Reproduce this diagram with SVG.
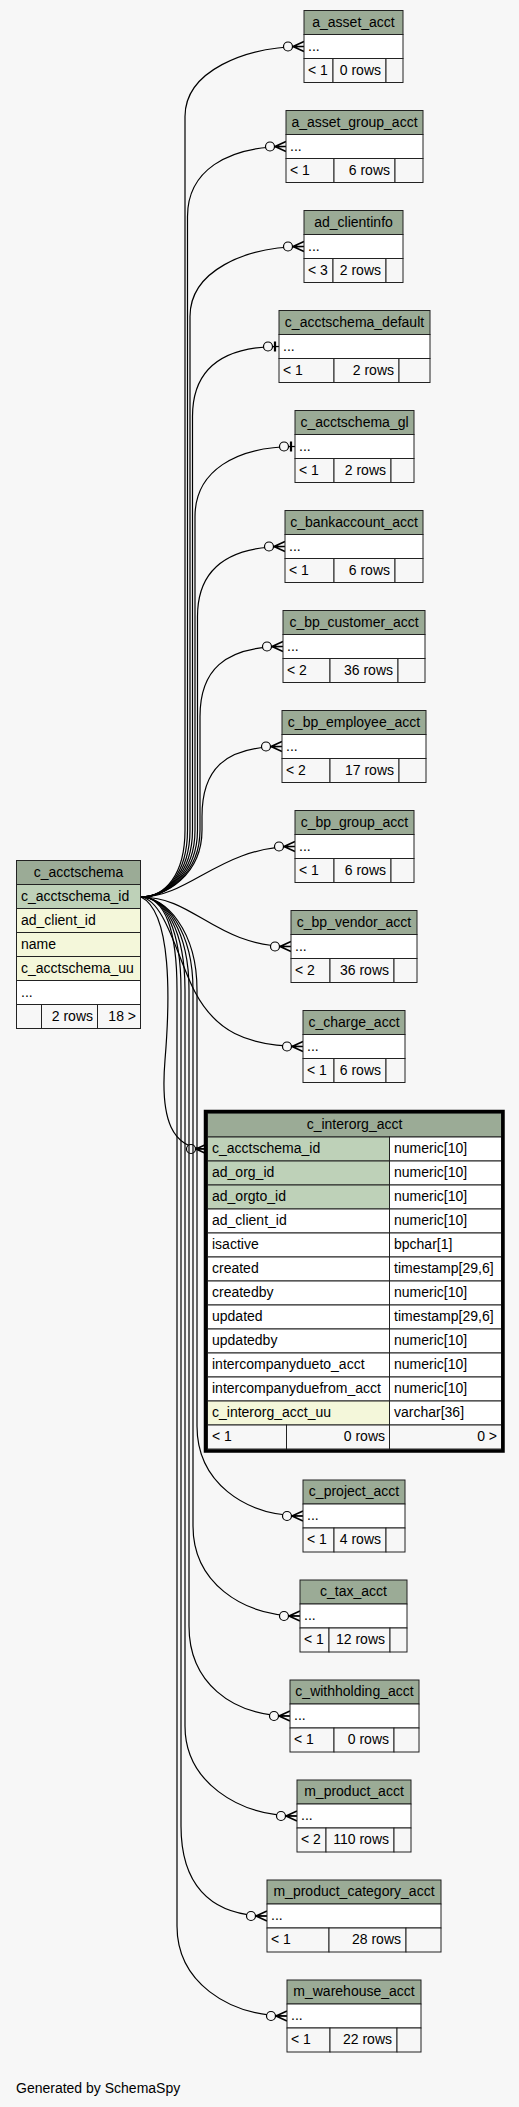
<svg xmlns="http://www.w3.org/2000/svg" width="519" height="2107" viewBox="0 0 519 2107">
<style>
.t{font-family:"Liberation Sans",Arial,sans-serif;font-size:14px;fill:#000}
.c{text-anchor:middle}
.e{text-anchor:end}
.hd{fill:#9bab96;stroke:#222;stroke-width:1}
.pk{fill:#bed1b8;stroke:#222;stroke-width:1}
.ix{fill:#f4f7da;stroke:#222;stroke-width:1}
.wh{fill:#fff;stroke:#222;stroke-width:1}
.ft{fill:#f7f7f7;stroke:#222;stroke-width:1}
.edge{fill:none;stroke:#000;stroke-width:1.2}
</style>
<defs>
<marker id="crow" markerUnits="userSpaceOnUse" markerWidth="24" markerHeight="14" refX="0" refY="0" orient="auto" overflow="visible">
<circle cx="-16" cy="0" r="4.5" fill="#f7f7f7" stroke="#000" stroke-width="1.2"/>
<path d="M-11,0 L0,-5 M-11,0 L0,0 M-11,0 L0,5" stroke="#000" stroke-width="1.6" fill="none"/>
</marker>
<marker id="one" markerUnits="userSpaceOnUse" markerWidth="24" markerHeight="14" refX="0" refY="0" orient="auto" overflow="visible">
<path d="M-6.5,0 L0,0" stroke="#000" stroke-width="1.2"/>
<circle cx="-11" cy="0" r="4.5" fill="#f7f7f7" stroke="#000" stroke-width="1.2"/>
<path d="M-4,-5 L-4,5" stroke="#000" stroke-width="2.2" fill="none"/>
</marker>
</defs>
<rect x="0" y="0" width="519" height="2107" fill="#f7f7f7"/>

<g id="connectors">
<path class="edge" marker-end="url(#crow)" d="M141,897 C165,897 185,875 185,830 L185,116.5 C185,71.5 244,46.5 304,46.5"/>
<path class="edge" marker-end="url(#crow)" d="M141,897 C165,897 187.5,875 187.5,830 L187.5,216.5 C187.5,171.5 226,146.5 286,146.5"/>
<path class="edge" marker-end="url(#crow)" d="M141,897 C165,897 190,875 190,830 L190,316.5 C190,271.5 244,246.5 304,246.5"/>
<path class="edge" marker-end="url(#one)" d="M141,897 C165,897 192.5,875 192.5,830 L192.5,416.5 C192.5,371.5 219,346.5 279,346.5"/>
<path class="edge" marker-end="url(#one)" d="M141,897 C165,897 195,875 195,830 L195,516.5 C195,471.5 235,446.5 295,446.5"/>
<path class="edge" marker-end="url(#crow)" d="M141,897 C165,897 197.5,875 197.5,830 L197.5,616.5 C197.5,571.5 225,546.5 285,546.5"/>
<path class="edge" marker-end="url(#crow)" d="M141,897 C165,897 200,875 200,830 L200,716.5 C200,671.5 223,646.5 283,646.5"/>
<path class="edge" marker-end="url(#crow)" d="M141,897 C165,897 202,875 202,830 L202,816.5 C202,771.5 222,746.5 282,746.5"/>
<path class="edge" marker-end="url(#crow)" d="M141,897 C190,897 220,846.5 295,846.5"/>
<path class="edge" marker-end="url(#crow)" d="M141,897 C195,897 215,946.5 291,946.5"/>
<path class="edge" marker-end="url(#crow)" d="M141,897 C165,900 178,960 195,992 C215,1030 245,1046.5 303,1046.5"/>
<path class="edge" marker-end="url(#crow)" d="M141,897 C172,912 170,1000 165,1060 C160,1120 172,1149 207,1149"/>
<path class="edge" marker-end="url(#crow)" d="M141,897 C165,897 197,930 197,990 L197,1426 C197,1481 243,1516 303,1516"/>
<path class="edge" marker-end="url(#crow)" d="M141,897 C165,897 193,930 193,990 L193,1526 C193,1581 240,1616 300,1616"/>
<path class="edge" marker-end="url(#crow)" d="M141,897 C165,897 189,930 189,990 L189,1626 C189,1681 230,1716 290,1716"/>
<path class="edge" marker-end="url(#crow)" d="M141,897 C165,897 185,930 185,990 L185,1726 C185,1781 237,1816 297,1816"/>
<path class="edge" marker-end="url(#crow)" d="M141,897 C165,897 181,930 181,990 L181,1826 C181,1881 207,1916 267,1916"/>
<path class="edge" marker-end="url(#crow)" d="M141,897 C165,897 177,930 177,990 L177,1926 C177,1981 227,2016 287,2016"/>
</g>

<g id="c_acctschema">
<rect class="hd" x="16.5" y="860.5" width="124" height="24"/>
<rect class="pk" x="16.5" y="884.5" width="124" height="24"/>
<rect class="ix" x="16.5" y="908.5" width="124" height="24"/>
<rect class="ix" x="16.5" y="932.5" width="124" height="24"/>
<rect class="ix" x="16.5" y="956.5" width="124" height="24"/>
<rect class="wh" x="16.5" y="980.5" width="124" height="24"/>
<rect class="ft" x="16.5" y="1004.5" width="25" height="24"/>
<rect class="ft" x="41.5" y="1004.5" width="56" height="24"/>
<rect class="ft" x="97.5" y="1004.5" width="43" height="24"/>
<text class="t c" x="78.5" y="876.5">c_acctschema</text>
<text class="t" x="21" y="900.5">c_acctschema_id</text>
<text class="t" x="21" y="924.5">ad_client_id</text>
<text class="t" x="21" y="948.5">name</text>
<text class="t" x="21" y="972.5">c_acctschema_uu</text>
<text class="t" x="21" y="996.5">...</text>
<text class="t e" x="93" y="1020.5">2 rows</text>
<text class="t e" x="136" y="1020.5">18 &gt;</text>
</g>

<g id="a_asset_acct">
<rect class="hd" x="304" y="10.5" width="99" height="24"/>
<rect class="wh" x="304" y="34.5" width="99" height="24"/>
<rect class="ft" x="304" y="58.5" width="29" height="24"/>
<rect class="ft" x="333" y="58.5" width="53" height="24"/>
<rect class="ft" x="386" y="58.5" width="17" height="24"/>
<text class="t c" x="353.5" y="26.5">a_asset_acct</text>
<text class="t" x="308" y="50.5">...</text>
<text class="t" x="308" y="74.5">&lt; 1</text>
<text class="t e" x="381" y="74.5">0 rows</text>
</g>

<g id="a_asset_group_acct">
<rect class="hd" x="286" y="110.5" width="137" height="24"/>
<rect class="wh" x="286" y="134.5" width="137" height="24"/>
<rect class="ft" x="286" y="158.5" width="48" height="24"/>
<rect class="ft" x="334" y="158.5" width="61" height="24"/>
<rect class="ft" x="395" y="158.5" width="28" height="24"/>
<text class="t c" x="354.5" y="126.5">a_asset_group_acct</text>
<text class="t" x="290" y="150.5">...</text>
<text class="t" x="290" y="174.5">&lt; 1</text>
<text class="t e" x="390" y="174.5">6 rows</text>
</g>

<g id="ad_clientinfo">
<rect class="hd" x="304" y="210.5" width="99" height="24"/>
<rect class="wh" x="304" y="234.5" width="99" height="24"/>
<rect class="ft" x="304" y="258.5" width="29" height="24"/>
<rect class="ft" x="333" y="258.5" width="53" height="24"/>
<rect class="ft" x="386" y="258.5" width="17" height="24"/>
<text class="t c" x="353.5" y="226.5">ad_clientinfo</text>
<text class="t" x="308" y="250.5">...</text>
<text class="t" x="308" y="274.5">&lt; 3</text>
<text class="t e" x="381" y="274.5">2 rows</text>
</g>

<g id="c_acctschema_default">
<rect class="hd" x="279" y="310.5" width="151" height="24"/>
<rect class="wh" x="279" y="334.5" width="151" height="24"/>
<rect class="ft" x="279" y="358.5" width="55" height="24"/>
<rect class="ft" x="334" y="358.5" width="65" height="24"/>
<rect class="ft" x="399" y="358.5" width="31" height="24"/>
<text class="t c" x="354.5" y="326.5">c_acctschema_default</text>
<text class="t" x="283" y="350.5">...</text>
<text class="t" x="283" y="374.5">&lt; 1</text>
<text class="t e" x="394" y="374.5">2 rows</text>
</g>

<g id="c_acctschema_gl">
<rect class="hd" x="295" y="410.5" width="119" height="24"/>
<rect class="wh" x="295" y="434.5" width="119" height="24"/>
<rect class="ft" x="295" y="458.5" width="39" height="24"/>
<rect class="ft" x="334" y="458.5" width="57" height="24"/>
<rect class="ft" x="391" y="458.5" width="23" height="24"/>
<text class="t c" x="354.5" y="426.5">c_acctschema_gl</text>
<text class="t" x="299" y="450.5">...</text>
<text class="t" x="299" y="474.5">&lt; 1</text>
<text class="t e" x="386" y="474.5">2 rows</text>
</g>

<g id="c_bankaccount_acct">
<rect class="hd" x="285" y="510.5" width="138" height="24"/>
<rect class="wh" x="285" y="534.5" width="138" height="24"/>
<rect class="ft" x="285" y="558.5" width="49" height="24"/>
<rect class="ft" x="334" y="558.5" width="61" height="24"/>
<rect class="ft" x="395" y="558.5" width="28" height="24"/>
<text class="t c" x="354" y="526.5">c_bankaccount_acct</text>
<text class="t" x="289" y="550.5">...</text>
<text class="t" x="289" y="574.5">&lt; 1</text>
<text class="t e" x="390" y="574.5">6 rows</text>
</g>

<g id="c_bp_customer_acct">
<rect class="hd" x="283" y="610.5" width="142" height="24"/>
<rect class="wh" x="283" y="634.5" width="142" height="24"/>
<rect class="ft" x="283" y="658.5" width="47" height="24"/>
<rect class="ft" x="330" y="658.5" width="68" height="24"/>
<rect class="ft" x="398" y="658.5" width="27" height="24"/>
<text class="t c" x="354" y="626.5">c_bp_customer_acct</text>
<text class="t" x="287" y="650.5">...</text>
<text class="t" x="287" y="674.5">&lt; 2</text>
<text class="t e" x="393" y="674.5">36 rows</text>
</g>

<g id="c_bp_employee_acct">
<rect class="hd" x="282" y="710.5" width="144" height="24"/>
<rect class="wh" x="282" y="734.5" width="144" height="24"/>
<rect class="ft" x="282" y="758.5" width="48" height="24"/>
<rect class="ft" x="330" y="758.5" width="69" height="24"/>
<rect class="ft" x="399" y="758.5" width="27" height="24"/>
<text class="t c" x="354" y="726.5">c_bp_employee_acct</text>
<text class="t" x="286" y="750.5">...</text>
<text class="t" x="286" y="774.5">&lt; 2</text>
<text class="t e" x="394" y="774.5">17 rows</text>
</g>

<g id="c_bp_group_acct">
<rect class="hd" x="295" y="810.5" width="119" height="24"/>
<rect class="wh" x="295" y="834.5" width="119" height="24"/>
<rect class="ft" x="295" y="858.5" width="39" height="24"/>
<rect class="ft" x="334" y="858.5" width="57" height="24"/>
<rect class="ft" x="391" y="858.5" width="23" height="24"/>
<text class="t c" x="354.5" y="826.5">c_bp_group_acct</text>
<text class="t" x="299" y="850.5">...</text>
<text class="t" x="299" y="874.5">&lt; 1</text>
<text class="t e" x="386" y="874.5">6 rows</text>
</g>

<g id="c_bp_vendor_acct">
<rect class="hd" x="291" y="910.5" width="126" height="24"/>
<rect class="wh" x="291" y="934.5" width="126" height="24"/>
<rect class="ft" x="291" y="958.5" width="39" height="24"/>
<rect class="ft" x="330" y="958.5" width="64" height="24"/>
<rect class="ft" x="394" y="958.5" width="23" height="24"/>
<text class="t c" x="354" y="926.5">c_bp_vendor_acct</text>
<text class="t" x="295" y="950.5">...</text>
<text class="t" x="295" y="974.5">&lt; 2</text>
<text class="t e" x="389" y="974.5">36 rows</text>
</g>

<g id="c_charge_acct">
<rect class="hd" x="303" y="1010.5" width="102" height="24"/>
<rect class="wh" x="303" y="1034.5" width="102" height="24"/>
<rect class="ft" x="303" y="1058.5" width="31" height="24"/>
<rect class="ft" x="334" y="1058.5" width="52" height="24"/>
<rect class="ft" x="386" y="1058.5" width="19" height="24"/>
<text class="t c" x="354" y="1026.5">c_charge_acct</text>
<text class="t" x="307" y="1050.5">...</text>
<text class="t" x="307" y="1074.5">&lt; 1</text>
<text class="t e" x="381" y="1074.5">6 rows</text>
</g>

<g id="c_interorg_acct">
<rect class="hd" x="207.5" y="1113" width="294" height="24"/>
<rect class="pk" x="207.5" y="1137" width="182" height="24"/>
<rect class="wh" x="389.5" y="1137" width="112" height="24"/>
<rect class="pk" x="207.5" y="1161" width="182" height="24"/>
<rect class="wh" x="389.5" y="1161" width="112" height="24"/>
<rect class="pk" x="207.5" y="1185" width="182" height="24"/>
<rect class="wh" x="389.5" y="1185" width="112" height="24"/>
<rect class="wh" x="207.5" y="1209" width="182" height="24"/>
<rect class="wh" x="389.5" y="1209" width="112" height="24"/>
<rect class="wh" x="207.5" y="1233" width="182" height="24"/>
<rect class="wh" x="389.5" y="1233" width="112" height="24"/>
<rect class="wh" x="207.5" y="1257" width="182" height="24"/>
<rect class="wh" x="389.5" y="1257" width="112" height="24"/>
<rect class="wh" x="207.5" y="1281" width="182" height="24"/>
<rect class="wh" x="389.5" y="1281" width="112" height="24"/>
<rect class="wh" x="207.5" y="1305" width="182" height="24"/>
<rect class="wh" x="389.5" y="1305" width="112" height="24"/>
<rect class="wh" x="207.5" y="1329" width="182" height="24"/>
<rect class="wh" x="389.5" y="1329" width="112" height="24"/>
<rect class="wh" x="207.5" y="1353" width="182" height="24"/>
<rect class="wh" x="389.5" y="1353" width="112" height="24"/>
<rect class="wh" x="207.5" y="1377" width="182" height="24"/>
<rect class="wh" x="389.5" y="1377" width="112" height="24"/>
<rect class="ix" x="207.5" y="1401" width="182" height="24"/>
<rect class="wh" x="389.5" y="1401" width="112" height="24"/>
<rect class="ft" x="207.5" y="1425" width="79" height="24"/>
<rect class="ft" x="286.5" y="1425" width="103" height="24"/>
<rect class="ft" x="389.5" y="1425" width="112" height="24"/>
<rect x="205.5" y="1111.5" width="297.5" height="339.5" fill="none" stroke="#000" stroke-width="3.5"/>
<text class="t c" x="354.5" y="1129">c_interorg_acct</text>
<text class="t" x="212" y="1153">c_acctschema_id</text>
<text class="t" x="394" y="1153">numeric[10]</text>
<text class="t" x="212" y="1177">ad_org_id</text>
<text class="t" x="394" y="1177">numeric[10]</text>
<text class="t" x="212" y="1201">ad_orgto_id</text>
<text class="t" x="394" y="1201">numeric[10]</text>
<text class="t" x="212" y="1225">ad_client_id</text>
<text class="t" x="394" y="1225">numeric[10]</text>
<text class="t" x="212" y="1249">isactive</text>
<text class="t" x="394" y="1249">bpchar[1]</text>
<text class="t" x="212" y="1273">created</text>
<text class="t" x="394" y="1273">timestamp[29,6]</text>
<text class="t" x="212" y="1297">createdby</text>
<text class="t" x="394" y="1297">numeric[10]</text>
<text class="t" x="212" y="1321">updated</text>
<text class="t" x="394" y="1321">timestamp[29,6]</text>
<text class="t" x="212" y="1345">updatedby</text>
<text class="t" x="394" y="1345">numeric[10]</text>
<text class="t" x="212" y="1369">intercompanydueto_acct</text>
<text class="t" x="394" y="1369">numeric[10]</text>
<text class="t" x="212" y="1393">intercompanyduefrom_acct</text>
<text class="t" x="394" y="1393">numeric[10]</text>
<text class="t" x="212" y="1417">c_interorg_acct_uu</text>
<text class="t" x="394" y="1417">varchar[36]</text>
<text class="t" x="212" y="1441">&lt; 1</text>
<text class="t e" x="385" y="1441">0 rows</text>
<text class="t e" x="497" y="1441">0 &gt;</text>
</g>

<g id="c_project_acct">
<rect class="hd" x="303" y="1480" width="102" height="24"/>
<rect class="wh" x="303" y="1504" width="102" height="24"/>
<rect class="ft" x="303" y="1528" width="31" height="24"/>
<rect class="ft" x="334" y="1528" width="52" height="24"/>
<rect class="ft" x="386" y="1528" width="19" height="24"/>
<text class="t c" x="354" y="1496">c_project_acct</text>
<text class="t" x="307" y="1520">...</text>
<text class="t" x="307" y="1544">&lt; 1</text>
<text class="t e" x="381" y="1544">4 rows</text>
</g>

<g id="c_tax_acct">
<rect class="hd" x="300" y="1580" width="107" height="24"/>
<rect class="wh" x="300" y="1604" width="107" height="24"/>
<rect class="ft" x="300" y="1628" width="29" height="24"/>
<rect class="ft" x="329" y="1628" width="61" height="24"/>
<rect class="ft" x="390" y="1628" width="17" height="24"/>
<text class="t c" x="353.5" y="1596">c_tax_acct</text>
<text class="t" x="304" y="1620">...</text>
<text class="t" x="304" y="1644">&lt; 1</text>
<text class="t e" x="385" y="1644">12 rows</text>
</g>

<g id="c_withholding_acct">
<rect class="hd" x="290" y="1680" width="129" height="24"/>
<rect class="wh" x="290" y="1704" width="129" height="24"/>
<rect class="ft" x="290" y="1728" width="44" height="24"/>
<rect class="ft" x="334" y="1728" width="60" height="24"/>
<rect class="ft" x="394" y="1728" width="25" height="24"/>
<text class="t c" x="354.5" y="1696">c_withholding_acct</text>
<text class="t" x="294" y="1720">...</text>
<text class="t" x="294" y="1744">&lt; 1</text>
<text class="t e" x="389" y="1744">0 rows</text>
</g>

<g id="m_product_acct">
<rect class="hd" x="297" y="1780" width="114" height="24"/>
<rect class="wh" x="297" y="1804" width="114" height="24"/>
<rect class="ft" x="297" y="1828" width="29" height="24"/>
<rect class="ft" x="326" y="1828" width="68" height="24"/>
<rect class="ft" x="394" y="1828" width="17" height="24"/>
<text class="t c" x="354" y="1796">m_product_acct</text>
<text class="t" x="301" y="1820">...</text>
<text class="t" x="301" y="1844">&lt; 2</text>
<text class="t e" x="389" y="1844">110 rows</text>
</g>

<g id="m_product_category_acct">
<rect class="hd" x="267" y="1880" width="174" height="24"/>
<rect class="wh" x="267" y="1904" width="174" height="24"/>
<rect class="ft" x="267" y="1928" width="62" height="24"/>
<rect class="ft" x="329" y="1928" width="77" height="24"/>
<rect class="ft" x="406" y="1928" width="35" height="24"/>
<text class="t c" x="354" y="1896">m_product_category_acct</text>
<text class="t" x="271" y="1920">...</text>
<text class="t" x="271" y="1944">&lt; 1</text>
<text class="t e" x="401" y="1944">28 rows</text>
</g>

<g id="m_warehouse_acct">
<rect class="hd" x="287" y="1980" width="134" height="24"/>
<rect class="wh" x="287" y="2004" width="134" height="24"/>
<rect class="ft" x="287" y="2028" width="43" height="24"/>
<rect class="ft" x="330" y="2028" width="67" height="24"/>
<rect class="ft" x="397" y="2028" width="24" height="24"/>
<text class="t c" x="354" y="1996">m_warehouse_acct</text>
<text class="t" x="291" y="2020">...</text>
<text class="t" x="291" y="2044">&lt; 1</text>
<text class="t e" x="392" y="2044">22 rows</text>
</g>

<text class="t" x="16" y="2093">Generated by SchemaSpy</text>
</svg>
